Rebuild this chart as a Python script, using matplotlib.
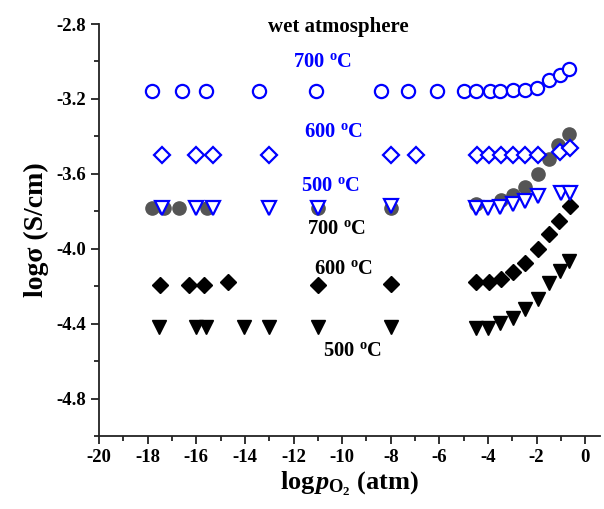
import matplotlib
matplotlib.use('Agg')
import matplotlib.pyplot as plt
from matplotlib.ticker import MultipleLocator

plt.rcParams['font.family'] = ['Liberation Serif', 'DejaVu Serif']
plt.rcParams['font.weight'] = 'bold'
plt.rcParams['mathtext.fontset'] = 'custom'
plt.rcParams['mathtext.rm'] = 'Liberation Serif:bold'
plt.rcParams['mathtext.bf'] = 'Liberation Serif:bold'
plt.rcParams['mathtext.it'] = 'Liberation Serif:italic:bold'

# wet atmosphere (blue, open symbols)
x700w = [-17.81, -16.60, -15.61, -13.40, -11.08, -8.40, -7.30, -6.09, -4.99, -4.49,
         -3.90, -3.49, -2.99, -2.48, -1.98, -1.48, -1.02, -0.65]
y700w = [-3.155, -3.155, -3.155, -3.155, -3.155, -3.155, -3.155, -3.155, -3.155, -3.155,
         -3.155, -3.155, -3.152, -3.15, -3.14, -3.10, -3.07, -3.04]
x600w = [-17.41, -16.00, -15.30, -12.99, -7.98, -6.98, -4.47, -3.96, -3.47, -2.98,
         -2.47, -1.96, -1.02, -0.62]
y600w = [-3.50, -3.50, -3.50, -3.50, -3.50, -3.50, -3.50, -3.50, -3.50, -3.50,
         -3.50, -3.50, -3.483, -3.462]
x500w = [-17.41, -16.01, -15.30, -12.99, -10.99, -7.98, -4.50, -3.99, -3.49, -2.98,
         -2.48, -1.96, -0.99, -0.62]
y500w = [-3.784, -3.784, -3.784, -3.784, -3.784, -3.771, -3.782, -3.782, -3.777, -3.762,
         -3.744, -3.720, -3.704, -3.704]

# dry (filled symbols)
x700d = [-17.81, -17.33, -16.71, -15.57, -10.99, -7.98, -4.50, -3.47, -2.98, -2.47,
         -1.96, -1.47, -1.10, -0.66]
y700d = [-3.78, -3.78, -3.78, -3.78, -3.78, -3.78, -3.762, -3.739, -3.714, -3.672,
         -3.60, -3.523, -3.447, -3.387]
x600d = [-17.51, -16.31, -15.68, -14.69, -10.99, -7.98, -4.50, -3.96, -3.46, -2.98,
         -2.47, -1.96, -1.49, -1.07, -0.62]
y600d = [-4.195, -4.195, -4.195, -4.177, -4.195, -4.19, -4.177, -4.177, -4.163, -4.124,
         -4.074, -4.0, -3.921, -3.853, -3.774]
x500d = [-17.52, -16.01, -15.60, -14.02, -13.0, -11.0, -7.98, -4.50, -3.99, -3.49,
         -2.98, -2.47, -1.96, -1.47, -1.03, -0.65]
y500d = [-4.42, -4.42, -4.42, -4.42, -4.42, -4.42, -4.42, -4.423, -4.423, -4.396,
         -4.369, -4.32, -4.27, -4.184, -4.117, -4.063]

fig = plt.figure(figsize=(6.04, 5.09), dpi=100)
ax = fig.add_axes([0.164, 0.1434, 0.829, 0.8094])

ax.plot(x700d, y700d, 'o', color='#555555', ms=9.5, mec='#555555', ls='none')
ax.plot(x600d, y600d, 'D', color='black', ms=8.0, ls='none')
ax.plot(x500d, y500d, 'v', color='black', ms=10.5, ls='none')
ax.plot(x700w, y700w, 'o', mfc='white', mec='blue', mew=1.6, ms=9.5, ls='none')
ax.plot(x600w, y600w, 'D', mfc='white', mec='blue', mew=1.6, ms=8.2, ls='none')
ax.plot(x500w, y500w, 'v', mfc='white', mec='blue', mew=1.6, ms=10, ls='none')

tfs = 14.8
ax.text(-10.16, -2.815, 'wet atmosphere', ha='center', va='center', fontsize=15, fontweight='bold')
ax.text(-10.8, -3.002, r'700 $^{\mathbf{o}}$C', color='blue', ha='center', va='center', fontsize=tfs)
ax.text(-10.37, -3.377, r'600 $^{\mathbf{o}}$C', color='blue', ha='center', va='center', fontsize=tfs)
ax.text(-10.49, -3.663, r'500 $^{\mathbf{o}}$C', color='blue', ha='center', va='center', fontsize=tfs)
ax.text(-10.22, -3.895, r'700 $^{\mathbf{o}}$C', color='black', ha='center', va='center', fontsize=tfs)
ax.text(-9.95, -4.11, r'600 $^{\mathbf{o}}$C', color='black', ha='center', va='center', fontsize=tfs)
ax.text(-9.57, -4.548, r'500 $^{\mathbf{o}}$C', color='black', ha='center', va='center', fontsize=tfs)

ax.set_xlim(-20, 0.6)
ax.set_ylim(-5.0, -2.8)
ax.xaxis.set_major_locator(MultipleLocator(2))
ax.xaxis.set_minor_locator(MultipleLocator(1))
ax.yaxis.set_major_locator(MultipleLocator(0.4))
ax.yaxis.set_minor_locator(MultipleLocator(0.2))
ax.spines['top'].set_visible(False)
ax.spines['right'].set_visible(False)
for s in ['left', 'bottom']:
    ax.spines[s].set_linewidth(1.3)
    ax.spines[s].set_color('#222222')
ax.tick_params(which='major', direction='out', length=6, width=1.3, labelsize=13.5, color='#222222')
ax.tick_params(which='minor', direction='out', length=3.5, width=1.3, color='#222222')
ax.set_xticks([-20, -18, -16, -14, -12, -10, -8, -6, -4, -2, 0])
ax.set_xticklabels(['-20', '-18', '-16', '-14', '-12', '-10', '-8', '-6', '-4', '-2', '0'], fontweight='bold')
ax.set_yticks([-4.8, -4.4, -4.0, -3.6, -3.2, -2.8])
ax.set_yticklabels(['-4.8', '-4.4', '-4.0', '-3.6', '-3.2', '-2.8'], fontweight='bold')

ax.set_xlabel(r'log$\hspace{0.07}\it{p}_{\mathbf{O}_{\mathbf{2}}}$ (atm)', fontsize=19, fontweight='bold', labelpad=3)
ax.set_ylabel('logσ (S/cm)', fontsize=20, fontweight='bold', labelpad=5)

fig.savefig('out.png', dpi=100)
